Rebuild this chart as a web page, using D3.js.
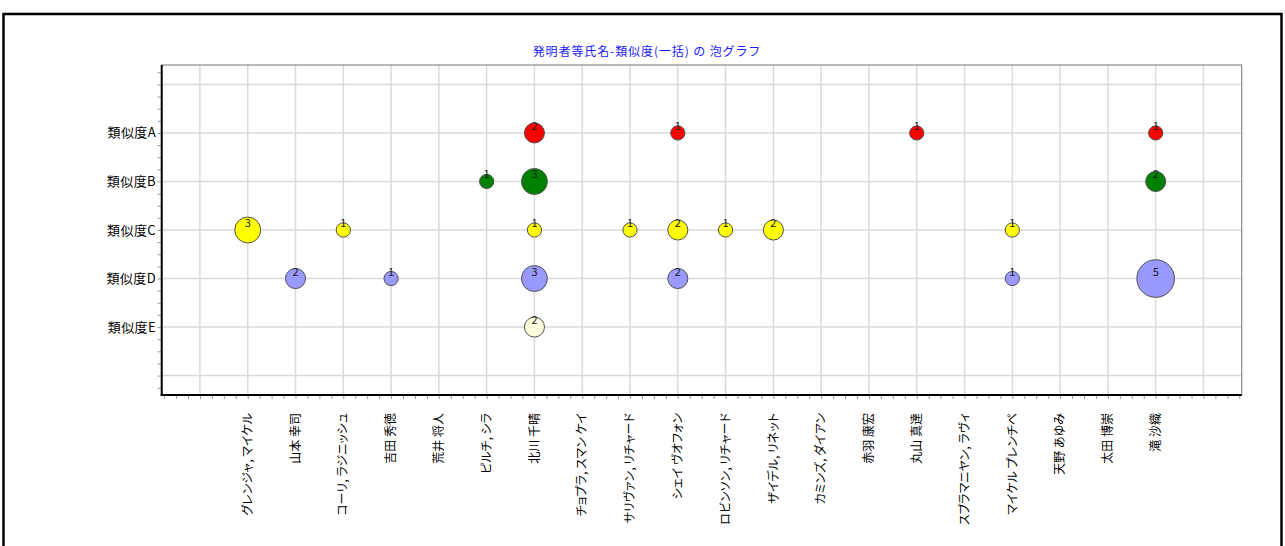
<!DOCTYPE html>
<html>
<head>
<meta charset="utf-8">
<script src="https://cdn.jsdelivr.net/npm/d3@7"></script>
<style>
  html, body { margin: 0; padding: 0; background: #fff; }
  svg { display: block; }
  text { font-family: "Noto Sans CJK JP", "Noto Sans", sans-serif; }
  .xlabel { font-feature-settings: "palt"; }
</style>
</head>
<body>
<svg id="chart" width="1285" height="546"></svg>
<script>
// Inventor names along the x axis
const names = [
  "グレンジャ, マイケル", "山本 幸司", "コーリ, ラジニッシュ", "吉田 秀徳", "荒井 将人",
  "ピルチ, シラ", "北川 千晴", "チョプラ, スマン ケイ", "サリヴァン, リチャード", "シェイ ヴオフォン",
  "ロビンソン, リチャード", "ザイデル, リネット", "カミンズ, ダイアン", "赤羽 康宏", "丸山 真達",
  "スブラマニヤン, ラヴィ", "マイケル プレンチペ", "天野 あゆみ", "太田 博崇", "滝 沙織"
];

// Similarity grades on the y axis (top to bottom)
const grades = ["類似度A", "類似度B", "類似度C", "類似度D", "類似度E"];

// Document counts per inventor for each grade (0 = no bubble)
const countsA = [0, 0, 0, 0, 0, 0, 2, 0, 0, 1, 0, 0, 0, 0, 1, 0, 0, 0, 0, 1];
const countsB = [0, 0, 0, 0, 0, 1, 3, 0, 0, 0, 0, 0, 0, 0, 0, 0, 0, 0, 0, 2];
const countsC = [3, 0, 1, 0, 0, 0, 1, 0, 1, 2, 1, 2, 0, 0, 0, 0, 1, 0, 0, 0];
const countsD = [0, 2, 0, 1, 0, 0, 3, 0, 0, 2, 0, 0, 0, 0, 0, 0, 1, 0, 0, 5];
const countsE = [0, 0, 0, 0, 0, 0, 2, 0, 0, 0, 0, 0, 0, 0, 0, 0, 0, 0, 0, 0];

const seriesColors = ["#ff0000", "#008000", "#ffff00", "#9999ff", "#ffffe0"];
const title = "発明者等氏名-類似度(一括) の 泡グラフ";

const series = [countsA, countsB, countsC, countsD, countsE];

const svg = d3.select("#chart");

// outer frame
svg.append("rect")
  .attr("x", 3.5).attr("y", 14).attr("width", 1278).attr("height", 600)
  .attr("fill", "#fff").attr("stroke", "#000").attr("stroke-width", 2.5);

const plot = { left: 161.7, right: 1241.7, top: 65, bottom: 395 };

// x positions: inventor i sits at i + 1
const x = d3.scaleLinear().domain([-0.8, 21.8]).range([plot.left, plot.right]);
// y positions: grade A = 5 ... grade E = 1
const y = d3.scaleLinear().domain([-0.4, 6.4]).range([plot.bottom, plot.top]);
const r = d3.scaleLinear().domain([0, 5]).range([4.2, 18.8]);

const xGrid = d3.range(0, 22);
const yGrid = d3.range(0, 7);

// title
svg.append("text")
  .attr("x", 647).attr("y", 56)
  .attr("text-anchor", "middle")
  .attr("font-size", 12)
  .attr("letter-spacing", 0.9)
  .attr("fill", "#1a1aff")
  .text(title);

// grid
const g = svg.append("g");
g.selectAll("line.gx").data(xGrid).join("line")
  .attr("x1", d => x(d)).attr("x2", d => x(d))
  .attr("y1", plot.top).attr("y2", plot.bottom)
  .attr("stroke", "#dadada").attr("stroke-width", 1.5);
g.selectAll("line.gy").data(yGrid).join("line")
  .attr("x1", plot.left).attr("x2", plot.right)
  .attr("y1", d => y(d)).attr("y2", d => y(d))
  .attr("stroke", "#dadada").attr("stroke-width", 1.5);

// plot frame (top/right)
svg.append("rect")
  .attr("x", plot.left).attr("y", plot.top)
  .attr("width", plot.right - plot.left).attr("height", plot.bottom - plot.top)
  .attr("fill", "none").attr("stroke", "#8a8a8a").attr("stroke-width", 1.2);

// x axis with quarter-step minor ticks
const xAxis = d3.axisBottom(x)
  .tickValues(d3.range(-0.75, 21.8, 0.25))
  .tickSize(4).tickSizeOuter(0).tickFormat("");
const xa = svg.append("g").attr("transform", `translate(0,${plot.bottom})`).call(xAxis);
xa.select(".domain").remove();
xa.selectAll(".tick line").attr("stroke", "#999").attr("stroke-width", 1);

// y axis with quarter-step minor ticks
const yAxis = d3.axisLeft(y)
  .tickValues(d3.range(-0.25, 6.4, 0.25))
  .tickSize(4).tickSizeOuter(0).tickFormat("");
const ya = svg.append("g").attr("transform", `translate(${plot.left},0)`).call(yAxis);
ya.select(".domain").remove();
ya.selectAll(".tick line").attr("stroke", "#999").attr("stroke-width", 1);

// axis lines
svg.append("line")
  .attr("x1", plot.left).attr("x2", plot.left)
  .attr("y1", plot.top).attr("y2", plot.bottom + 1)
  .attr("stroke", "#000").attr("stroke-width", 2);
svg.append("line")
  .attr("x1", plot.left - 1).attr("x2", plot.right)
  .attr("y1", plot.bottom).attr("y2", plot.bottom)
  .attr("stroke", "#000").attr("stroke-width", 2);

// y labels
svg.append("g").selectAll("text").data(grades).join("text")
  .attr("x", 156)
  .attr("y", (d, i) => y(5 - i))
  .attr("dy", "0.35em")
  .attr("text-anchor", "end")
  .attr("font-size", 13)
  .attr("letter-spacing", 0.4)
  .attr("fill", "#000")
  .text(d => d);

// x labels, rotated
svg.append("g").selectAll("text").data(names).join("text")
  .attr("class", "xlabel")
  .attr("transform", (d, i) => `translate(${x(i + 1)},413) rotate(-90)`)
  .attr("dy", "0.35em")
  .attr("text-anchor", "end")
  .attr("font-size", 12)
  .attr("fill", "#000")
  .text(d => d);

// bubbles
series.forEach((counts, s) => {
  const pts = counts.map((c, i) => ({ i, c })).filter(d => d.c > 0);
  const layer = svg.append("g");
  layer.selectAll("circle").data(pts).join("circle")
    .attr("cx", d => x(d.i + 1))
    .attr("cy", y(5 - s))
    .attr("r", d => r(d.c))
    .attr("fill", seriesColors[s])
    .attr("stroke", "#505050")
    .attr("stroke-width", 1);
  layer.selectAll("text").data(pts).join("text")
    .attr("x", d => x(d.i + 1))
    .attr("y", y(5 - s) - 3)
    .attr("text-anchor", "middle")
    .attr("font-size", 11)
    .attr("fill", "#1a1a1a")
    .text(d => d.c);
});
</script>
</body>
</html>
